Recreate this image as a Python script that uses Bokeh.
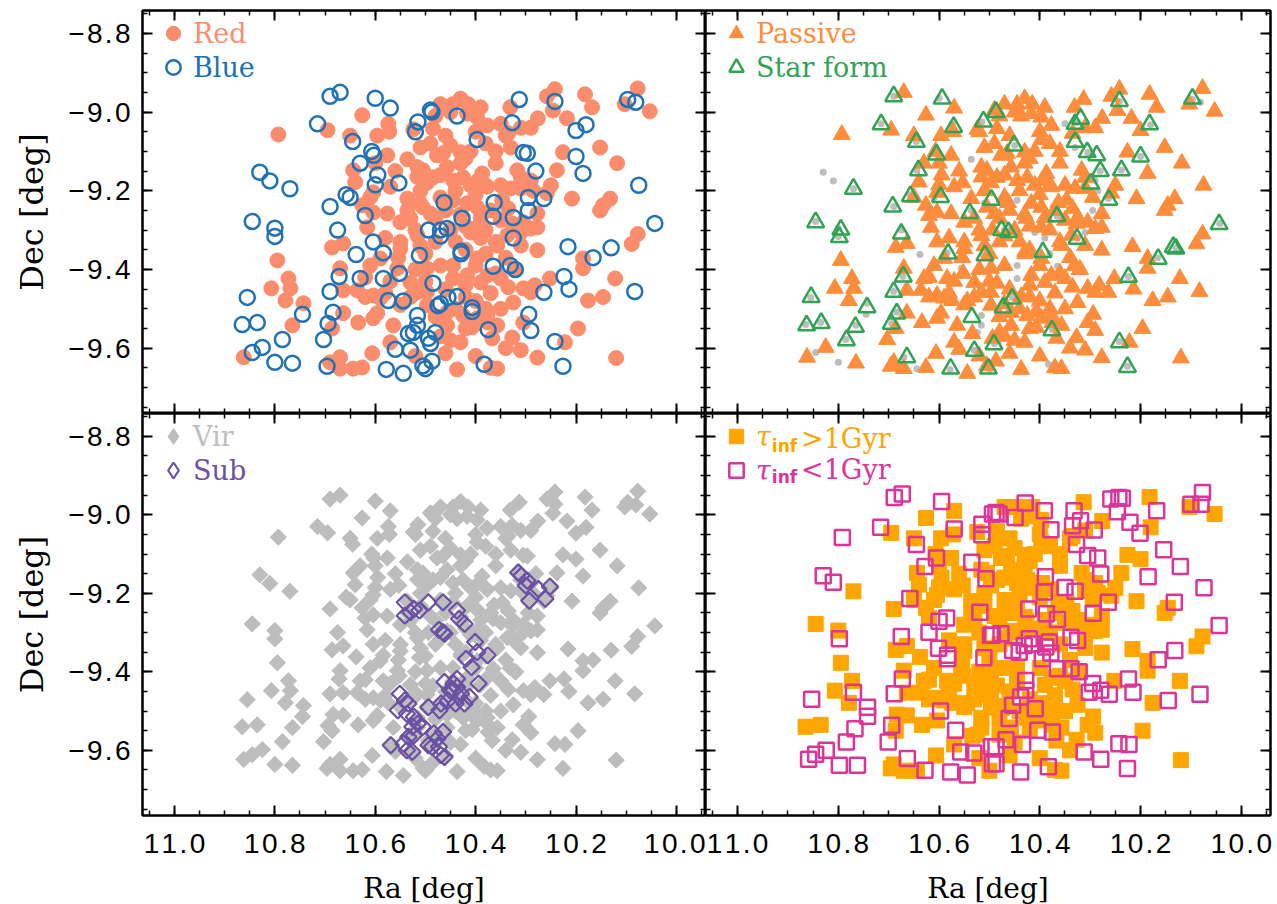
import numpy as np
from bokeh.plotting import figure
from bokeh.layouts import gridplot
from bokeh.models import (Range1d, LinearAxis, FixedTicker, CustomJSTickFormatter,
                          CustomLabelingPolicy, Legend, LegendItem, Label)
from bokeh.embed import file_html
from bokeh.resources import INLINE

# ---------------- data (deg) ----------------
red_ra = [10.793,10.626,10.695,10.65,10.574,10.572,10.596,10.524,10.576,10.536,10.516,10.644,10.64,10.604,10.57,10.536,10.516,10.51,10.626,10.604,10.576,10.536,10.616,10.61,10.55,10.53,
          10.077,10.053,10.103,10.182,10.168,10.242,10.258,10.246,10.218,10.152,10.118,10.152,10.146,10.132,10.208,10.238,10.226,10.331,10.335,10.31,10.29,10.276,10.34,10.33,10.317,10.31,10.29,10.25,10.258,10.31,10.285,10.35,10.33,10.347,10.335,10.277,10.43,10.415,10.39,10.445,10.45,10.377,10.485,10.417,10.397,10.45,10.477,10.465,10.43,10.42,10.387,10.395,10.38,10.457,10.445,10.425,10.41,10.377,10.505,10.497,10.51,10.485,10.47,10.445,10.417,10.397,10.39,10.505,10.49,10.35,10.327,10.305,10.277,10.397,
          10.686,10.664,10.795,10.67,10.61,10.59,10.554,10.556,10.773,10.769,10.807,10.779,10.743,10.765,10.664,10.636,10.604,10.59,10.596,10.604,10.664,10.634,10.686,10.564,10.57,10.606,10.862,10.69,10.67,10.67,10.644,10.626,10.55,10.516,10.51,10.53,10.516,
          10.077,10.089,10.122,10.146,10.176,10.196,10.222,10.12,10.186,10.186,10.252,10.282,10.305,10.335,10.29,10.325,10.305,10.277,10.31,10.327,10.357,10.437,10.367,10.375,10.407,10.43,10.46,10.277,10.29,10.31,10.337,10.31,10.357,10.39,10.41,10.39,10.377,10.35,10.417,10.445,10.397,10.445,10.47,10.497,10.497,10.497,10.457,10.425,10.457,10.397,10.357,10.377,10.35,
          10.46,10.49,10.40,10.43,10.47,10.40,10.36,10.36,10.48,10.43,10.37,10.45,10.52,10.55,10.58,10.42,10.38,10.34,10.32,10.37,10.42,10.52,10.57,10.62,10.55,10.47,10.52,10.40,10.34,10.37,
          10.44,10.46,10.42,10.38,10.36,10.44,10.40,10.36,10.42,10.46,10.40,10.44,10.38,10.48,10.42,10.45,10.50,10.53,10.58,10.62,10.50,10.48,10.41,10.38,10.35,10.48,10.51,10.56,10.60,10.47]
red_dec = [-9.057,-9.008,-9.046,-9.06,-9.03,-9.05,-9.06,-9.044,-9.11,-9.12,-9.14,-9.148,-9.178,-9.204,-9.19,-9.22,-9.165,-9.232,-9.237,-9.255,-9.258,-9.25,-9.293,-9.217,-9.28,-9.27,
           -8.94,-8.998,-8.98,-8.955,-8.988,-8.942,-8.96,-8.996,-9.016,-9.09,-9.13,-9.25,-9.237,-9.22,-9.22,-9.148,-9.102,-8.988,-9.054,-9.04,-9.04,-9.016,-9.06,-9.09,-9.148,-9.166,-9.174,-9.186,-9.206,-9.194,-9.2,-9.186,-9.194,-9.224,-9.245,-9.258,-8.966,-8.98,-8.988,-8.98,-9.0,-9.034,-9.042,-9.004,-9.013,-9.085,-9.11,-9.105,-9.102,-9.118,-9.156,-9.174,-9.186,-9.14,-9.174,-9.166,-9.186,-9.19,-9.148,-9.18,-9.2,-9.166,-9.217,-9.224,-9.232,-9.242,-9.268,-9.242,-9.258,-9.275,-9.283,-9.28,-9.293,-9.293,
           -9.344,-9.334,-9.377,-9.397,-9.39,-9.372,-9.37,-9.397,-9.423,-9.448,-9.448,-9.479,-9.486,-9.542,-9.453,-9.453,-9.466,-9.473,-9.511,-9.524,-9.511,-9.535,-9.55,-9.542,-9.585,-9.613,-9.623,-9.636,-9.623,-9.652,-9.652,-9.649,-9.347,-9.314,-9.34,-9.433,-9.458,
           -9.31,-9.335,-9.423,-9.47,-9.479,-9.55,-9.585,-9.625,-9.372,-9.397,-9.423,-9.44,-9.448,-9.445,-9.458,-9.484,-9.535,-9.624,-9.605,-9.573,-9.652,-9.654,-9.575,-9.535,-9.547,-9.585,-9.613,-9.351,-9.296,-9.306,-9.313,-9.339,-9.339,-9.32,-9.306,-9.433,-9.415,-9.423,-9.415,-9.423,-9.372,-9.39,-9.39,-9.397,-9.458,-9.491,-9.509,-9.517,-9.542,-9.524,-9.542,-9.517,-9.5,
           -9.06,-9.08,-9.05,-9.13,-9.16,-9.21,-9.13,-9.10,-9.27,-9.26,-9.25,-9.30,-9.30,-9.33,-9.32,-9.35,-9.36,-9.37,-9.40,-9.46,-9.47,-9.40,-9.43,-9.42,-9.49,-9.57,-9.62,-9.62,-9.60,-9.65,
           -9.20,-9.25,-9.29,-9.30,-9.33,-9.33,-9.39,-9.41,-9.44,-9.45,-9.48,-9.50,-9.50,-9.52,-9.55,-9.58,-9.43,-9.47,-9.46,-9.47,-9.36,-9.33,-9.10,-9.08,-9.03,-9.01,-9.09,-9.15,-9.13,-8.98]

blue_ra = [10.69,10.67,10.60,10.57,10.715,10.515,10.52,10.645,10.607,10.603,10.63,10.595,10.60,10.553,10.83,10.81,10.77,10.658,10.65,10.69,10.62,10.845,10.80,10.675,
           10.313,10.242,10.097,10.081,10.49,10.487,10.437,10.327,10.20,10.18,10.397,10.305,10.297,10.20,10.186,10.28,10.075,10.463,10.363,10.295,10.264,10.295,10.365,10.427,10.325,10.043,
           10.80,10.604,10.584,10.638,10.512,10.672,10.63,10.584,10.552,10.855,10.69,10.574,10.544,10.745,10.684,10.694,10.865,10.835,10.785,10.703,10.845,10.825,10.80,10.765,10.696,10.578,10.544,10.53,10.56,10.534,10.516,10.524,10.516,10.505,
           10.216,10.166,10.13,10.224,10.214,10.264,10.083,10.325,10.365,10.331,10.321,10.429,10.429,10.485,10.437,10.455,10.47,10.475,10.407,10.407,10.294,10.29,10.375,10.242,10.226,10.383,10.48,10.494,10.49,10.487,10.50,10.494,10.47,10.47,10.457]
blue_dec = [-8.96,-8.95,-8.965,-8.99,-9.03,-9.025,-9.05,-9.075,-9.10,-9.11,-9.13,-9.16,-9.185,-9.18,-9.153,-9.175,-9.195,-9.21,-9.217,-9.24,-9.263,-9.278,-9.295,-9.30,
            -8.968,-8.973,-8.968,-8.975,-8.995,-9.0,-9.01,-9.027,-9.047,-9.032,-9.07,-9.103,-9.105,-9.113,-9.156,-9.15,-9.186,-9.23,-9.23,-9.217,-9.22,-9.25,-9.265,-9.27,-9.268,-9.283,
            -9.316,-9.33,-9.358,-9.362,-9.364,-9.418,-9.423,-9.423,-9.41,-9.471,-9.456,-9.479,-9.48,-9.514,-9.509,-9.537,-9.54,-9.535,-9.578,-9.578,-9.611,-9.598,-9.636,-9.638,-9.646,-9.654,-9.664,-9.605,-9.603,-9.563,-9.542,-9.56,-9.517,-9.645,
            -9.342,-9.37,-9.345,-9.418,-9.45,-9.458,-9.456,-9.32,-9.392,-9.39,-9.40,-9.354,-9.36,-9.435,-9.469,-9.471,-9.487,-9.492,-9.497,-9.507,-9.514,-9.555,-9.553,-9.583,-9.646,-9.641,-9.56,-9.575,-9.588,-9.633,-9.652,-9.30,-9.30,-9.315,-9.296]

star_ra = [10.69,10.594,10.487,10.715,10.571,10.512,10.319,10.33,10.242,10.182,10.097,10.645,10.605,10.451,10.33,10.306,10.287,10.2,10.28,10.238,10.641,10.77,10.657,10.597,10.692,10.299,10.263,10.496,10.539,10.366,10.845,10.795,10.798,10.675,10.476,10.462,10.326,10.044,10.135,10.13,10.165,10.582,10.509,10.394,10.224,10.671,10.69,10.854,10.743,10.684,10.695,10.863,10.834,10.766,10.784,10.535,10.455,10.473,10.376,10.491,10.53,10.242,10.664,10.577,10.502,10.226]
star_dec = [-8.96,-8.966,-9.0,-9.031,-9.038,-9.024,-9.017,-9.03,-8.972,-9.031,-8.966,-9.076,-9.108,-9.085,-9.076,-9.102,-9.11,-9.113,-9.15,-9.148,-9.148,-9.195,-9.214,-9.216,-9.24,-9.182,-9.223,-9.223,-9.257,-9.265,-9.28,-9.299,-9.318,-9.309,-9.3,-9.305,-9.322,-9.285,-9.343,-9.347,-9.373,-9.36,-9.364,-9.356,-9.419,-9.418,-9.457,-9.47,-9.496,-9.512,-9.538,-9.542,-9.536,-9.546,-9.58,-9.521,-9.474,-9.497,-9.555,-9.59,-9.607,-9.585,-9.623,-9.652,-9.652,-9.648]

unclass_ra = [10.83,10.809,10.535,10.342,10.274,10.294,10.31,10.637,10.841,10.798,10.645,10.383,10.505,10.525,10.458,10.408,10.356,10.416,10.401,10.451,10.083,10.745,10.55,10.435]
unclass_dec = [-9.154,-9.172,-9.121,-9.059,-9.192,-9.25,-9.309,-9.362,-9.61,-9.638,-9.655,-9.641,-9.542,-9.559,-9.43,-9.493,-9.391,-9.305,-9.309,-9.379,-8.975,-9.517,-9.394,-9.237]

sub_ra = [10.315,10.309,10.300,10.293,10.275,10.252,10.261,10.297,
          10.541,10.541,10.523,10.512,10.494,10.465,10.437,10.433,10.422,10.53,
          10.473,10.465,10.462,
          10.401,10.397,10.376,10.419,10.408,10.444,10.437,10.429,10.451,10.462,10.394,10.412,10.422,10.44,10.469,10.472,10.494,10.455,10.437,10.444,10.433,
          10.551,10.541,10.534,10.555,10.537,10.523,10.515,10.526,10.505,10.523,10.534,10.544,10.569,10.537,10.526,
          10.483,10.465,10.476,10.494,10.487,10.473,10.469,10.462]
sub_dec = [-9.147,-9.155,-9.18,-9.219,-9.189,-9.183,-9.214,-9.168,
           -9.223,-9.257,-9.24,-9.244,-9.223,-9.223,-9.244,-9.265,-9.278,-9.248,
           -9.293,-9.299,-9.303,
           -9.324,-9.35,-9.358,-9.367,-9.388,-9.43,-9.439,-9.456,-9.447,-9.426,-9.43,-9.464,-9.481,-9.481,-9.481,-9.498,-9.49,-9.473,-9.418,-9.447,-9.464,
           -9.456,-9.473,-9.481,-9.498,-9.507,-9.515,-9.532,-9.54,-9.54,-9.562,-9.566,-9.583,-9.587,-9.6,-9.604,
           -9.557,-9.553,-9.57,-9.587,-9.591,-9.591,-9.612,-9.617]

short_ra = [10.689,10.673,10.595,10.716,10.792,10.57,10.645,10.515,10.515,10.605,10.628,10.535,10.507,10.83,10.81,10.658,10.519,10.6,10.585,10.62,10.798,10.675,10.601,10.583,10.583,10.498,10.511,10.673,10.689,10.77,10.853,10.742,10.742,10.597,10.767,10.694,10.701,10.567,10.784,10.824,10.845,10.859,10.798,10.762,10.663,10.628,10.577,10.544,10.557,10.531,10.494,10.496,10.494,
            10.487,10.481,10.449,10.429,10.391,10.378,10.332,10.319,10.335,10.292,10.327,10.305,10.285,10.259,10.243,10.236,10.246,10.221,10.201,10.168,10.1,10.08,10.077,10.154,10.121,10.185,10.074,10.133,10.044,10.132,10.165,10.082,10.145,10.224,10.215,10.389,10.35,10.33,10.279,10.264,10.294,10.391,10.422,10.387,10.365,10.477,10.494,10.421,10.431,10.414,10.381,10.388,10.378,10.338,10.325,10.454,10.441,10.395,10.365,10.338,10.322,10.302,10.279,10.262,10.295,10.428,10.428,10.438,10.454,10.409,10.461,10.404,10.375,10.467,10.434,10.487,10.487,10.438,10.383,10.312,10.279,10.243,10.223,10.226]
short_dec = [-8.956,-8.947,-8.966,-9.032,-9.058,-9.036,-9.076,-9.024,-9.051,-9.11,-9.132,-9.121,-9.163,-9.155,-9.172,-9.213,-9.248,-9.271,-9.263,-9.299,-9.316,-9.31,-9.34,-9.358,-9.367,-9.307,-9.364,-9.418,-9.456,-9.452,-9.47,-9.49,-9.513,-9.5,-9.545,-9.536,-9.579,-9.549,-9.579,-9.6,-9.61,-9.623,-9.638,-9.638,-9.621,-9.651,-9.655,-9.663,-9.604,-9.607,-8.998,-9.591,-9.634,
             -8.994,-8.998,-9.007,-8.97,-8.99,-9.038,-8.99,-9.015,-9.028,-9.039,-9.076,-9.104,-9.11,-8.96,-8.956,-8.958,-8.992,-9.019,-9.047,-8.99,-8.973,-8.973,-8.943,-9.089,-9.132,-9.158,-9.186,-9.223,-9.282,-9.346,-9.369,-9.457,-9.473,-9.418,-9.452,-9.158,-9.185,-9.195,-9.151,-9.223,-9.251,-9.197,-9.24,-9.252,-9.267,-9.303,-9.307,-9.316,-9.333,-9.329,-9.324,-9.337,-9.352,-9.312,-9.32,-9.346,-9.35,-9.367,-9.392,-9.392,-9.4,-9.452,-9.447,-9.457,-9.43,-9.422,-9.447,-9.464,-9.485,-9.494,-9.519,-9.549,-9.553,-9.573,-9.585,-9.591,-9.634,-9.655,-9.642,-9.604,-9.623,-9.583,-9.585,-9.646]

x_major = [11.0, 10.8, 10.6, 10.4, 10.2, 10.0]
y_major = [-9.6, -9.4, -9.2, -9.0, -8.8]

# ---------------- colours ----------------
C_RED = "#fb8d6d"
C_BLUE = "#2171b5"
C_PASS = "#fd8d3c"
C_STAR = "#31a354"
C_GREY = "#bdbdbd"
C_SUB = "#6a51a3"
C_LONG = "#ffa500"
C_SHORT = "#dd3497"

gal_ra = np.array(red_ra + blue_ra)
gal_dec = np.array(red_dec + blue_dec)


def exclude_nearest(ra_list, dec_list, tol=0.03):
    mask = np.ones(len(gal_ra), dtype=bool)
    for r, d in zip(ra_list, dec_list):
        dist = np.hypot(gal_ra - r, gal_dec - d)
        dist[~mask] = np.inf
        i = int(np.argmin(dist))
        if dist[i] < tol:
            mask[i] = False
    return mask


pass_mask = exclude_nearest(star_ra + unclass_ra, star_dec + unclass_dec)
long_mask = exclude_nearest(short_ra, short_dec)

XR = (11.0637, 9.9420)
YR = (-9.766, -8.742)
x_minor = [round(10.0 + 0.05 * k, 2) for k in range(-1, 23)]
y_minor = [round(-9.75 + 0.05 * k, 2) for k in range(0, 21)]

fmt = CustomJSTickFormatter(
    code="const s = tick.toFixed(1).replace('-', '\u2212'); return s.split('').join('\u200a');")
TICK_FONT = "Liberation Sans"
LAB_FONT = "DejaVu Serif"


def style_axis(ax, major, minor, show):
    ax.ticker = FixedTicker(ticks=major, minor_ticks=minor)
    ax.major_tick_in = 10
    ax.major_tick_out = 0
    ax.minor_tick_in = 5
    ax.minor_tick_out = 0
    ax.axis_line_width = 2
    ax.major_tick_line_width = 2
    ax.minor_tick_line_width = 1.5
    ax.axis_line_color = "black"
    if show:
        ax.formatter = fmt
        ax.major_label_text_font = TICK_FONT
        ax.major_label_text_font_size = "28px"
        ax.major_label_text_color = "black"
        ax.major_label_standoff = 12
        ax.axis_label_text_font = LAB_FONT
        ax.axis_label_text_font_style = "normal"
        ax.axis_label_text_color = "black"
    else:
        ax.major_label_text_font_size = "0px"
        ax.major_label_standoff = 0
        ax.major_label_policy = CustomLabelingPolicy(code="return []")


def make_panel(col, row):
    left = col == 0
    bottom = row == 1
    fw = 563 if left else 565
    fh = 403 if not bottom else 402
    p = figure(frame_width=fw, frame_height=fh, x_range=Range1d(*XR), y_range=Range1d(*YR),
               output_backend="svg", toolbar_location=None,
               min_border_left=142 if left else 0, min_border_right=0 if left else 7,
               min_border_top=10 if not bottom else 0, min_border_bottom=89 if bottom else 0)
    p.grid.visible = False
    p.outline_line_color = "black"
    p.outline_line_width = 2
    p.background_fill_color = "white"
    p.border_fill_color = "white"
    style_axis(p.xaxis[0], x_major, x_minor, bottom)
    style_axis(p.yaxis[0], y_major, y_minor, left)
    if bottom:
        p.xaxis[0].axis_label = "Ra [deg]"
        p.xaxis[0].axis_label_text_font_size = "28px"
        p.xaxis[0].axis_label_standoff = 10
    if left:
        p.yaxis[0].axis_label = "Dec [deg]"
        p.yaxis[0].axis_label_text_font_size = "32px"
        p.yaxis[0].axis_label_standoff = 14
    top_ax = LinearAxis()
    right_ax = LinearAxis()
    style_axis(top_ax, x_major, x_minor, False)
    style_axis(right_ax, y_major, y_minor, False)
    p.add_layout(top_ax, "above")
    p.add_layout(right_ax, "right")
    return p


def add_legend(p, renderer, fh, item, text, color, G=36, italic=False):
    yc = (fh - 23) if item == 0 else (fh - 57)
    leg = Legend(items=[LegendItem(label=text, renderers=[renderer])],
                 location=(31 - G // 2, yc - G // 2), glyph_width=G, glyph_height=G,
                 label_text_font=LAB_FONT, label_text_font_size="27px",
                 label_text_font_style="italic" if italic else "normal",
                 label_text_color=color, label_width=0, label_height=0,
                 label_standoff=int(51 - (31 + G // 2)),
                 padding=0, margin=0, spacing=0, border_line_alpha=0, background_fill_alpha=0)
    p.add_layout(leg)


BASE = [-8.805, -8.885]

# ---------------- top left ----------------
p1 = make_panel(0, 0)
r_red = p1.scatter(red_ra, red_dec, marker="circle", size=15, fill_color=C_RED, line_color=C_RED)
r_blue = p1.scatter(blue_ra, blue_dec, marker="circle", size=15, fill_color=None,
                    line_color=C_BLUE, line_width=2.5)
add_legend(p1, r_red, 403, 0, "Red", C_RED)
add_legend(p1, r_blue, 403, 1, "Blue", C_BLUE)

# ---------------- top right ----------------
p2 = make_panel(1, 0)
p2.scatter(gal_ra, gal_dec, marker="circle", size=7, fill_color=C_GREY, line_color=None)
r_pass = p2.scatter(gal_ra[pass_mask], gal_dec[pass_mask], marker="triangle", size=17,
                    fill_color=C_PASS, line_color=C_PASS)
r_star = p2.scatter(star_ra, star_dec, marker="triangle", size=17, fill_color=None,
                    line_color=C_STAR, line_width=2.5)
add_legend(p2, r_pass, 403, 0, "Passive", C_PASS)
add_legend(p2, r_star, 403, 1, "Star form", C_STAR)

# ---------------- bottom left ----------------
p3 = make_panel(0, 1)
p3.scatter(gal_ra, gal_dec, marker="square", angle=np.pi / 4, size=11.5,
           fill_color=C_GREY, line_color=C_GREY)
p3.scatter(sub_ra, sub_dec, marker="square", angle=np.pi / 4, size=11.5,
           fill_color=None, line_color=C_SUB, line_width=2.2)
# legend keys (rhombus shape); NaN position so nothing is drawn on the plot itself
k_vir = p3.scatter([np.nan], [np.nan], marker="diamond", size=16, fill_color=C_GREY, line_color=C_GREY)
k_sub = p3.scatter([np.nan], [np.nan], marker="diamond", size=16, fill_color=None,
                   line_color=C_SUB, line_width=2.2)
add_legend(p3, k_vir, 402, 0, "Vir", C_GREY, G=40)
add_legend(p3, k_sub, 402, 1, "Sub", C_SUB, G=40)

# ---------------- bottom right ----------------
p4 = make_panel(1, 1)
r_long = p4.scatter(gal_ra[long_mask], gal_dec[long_mask], marker="square", size=15,
                    fill_color=C_LONG, line_color=C_LONG)
r_short = p4.scatter(short_ra, short_dec, marker="square", size=15, fill_color=None,
                     line_color=C_SHORT, line_width=2.5)
add_legend(p4, r_long, 402, 0, "\u03c4", C_LONG, italic=True)
add_legend(p4, r_short, 402, 1, "\u03c4", C_SHORT, italic=True)
for item, (sym, col) in enumerate([(">1Gyr", C_LONG), ("<1Gyr", C_SHORT)]):
    base = BASE[item]
    p4.add_layout(Label(x=10.932, y=base - 0.02, text="inf", text_color=col, text_font="DejaVu Sans",
                        text_font_style="bold", text_font_size="17px", text_baseline="alphabetic"))
    p4.add_layout(Label(x=10.874, y=base, text=sym, text_color=col, text_font=LAB_FONT,
                        text_font_size="27px", text_baseline="alphabetic"))

grid = gridplot([[p1, p2], [p3, p4]], toolbar_location=None)

open("out.html", "w").write(file_html(grid, INLINE))
